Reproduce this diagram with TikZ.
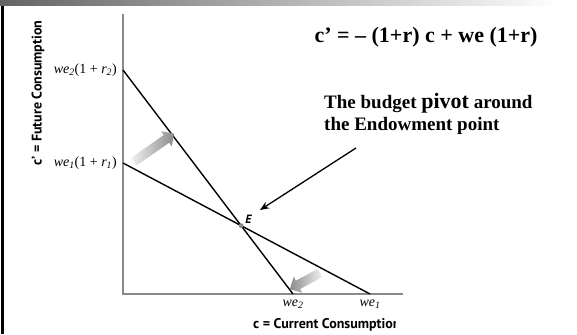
\documentclass[tikz,border=0pt]{standalone}
\usepackage{fontspec}
\setmainfont{Liberation Serif}
\setsansfont{PT Sans}
\usepackage{tikz}
\usetikzlibrary{arrows.meta,positioning,shapes.arrows,intersections}
\definecolor{axisgrey}{RGB}{138,138,138}
\definecolor{bardark}{RGB}{100,100,100}
\definecolor{shiftlight}{RGB}{240,240,240}
\definecolor{shiftdark}{RGB}{140,140,140}
\tikzset{
  base/.style={inner sep=1pt, text=black},
  axis/.style={draw=axisgrey, line width=1.3pt},
  budget/.style={draw=black, line width=1.4pt},
  ticklbl/.style={base, font=\fontsize{14}{16}\selectfont\itshape},
  axlbl/.style={base, font=\sffamily\bfseries\fontsize{14}{16}\selectfont},
  heading/.style={base, font=\bfseries\fontsize{22}{26}\selectfont},
  note/.style={base, font=\bfseries\fontsize{19}{22}\selectfont, align=left},
  pointer/.style={-{Stealth[length=3.2mm,width=2.6mm]}, line width=1.3pt, draw=black},
  shiftarrow/.style={single arrow, draw=none, inner xsep=0pt, inner ysep=4.5pt,
    single arrow head extend=4.5pt, left color=shiftlight, right color=shiftdark},
  shiftback/.style={shiftarrow, left color=shiftdark, right color=shiftlight},
}
\begin{document}
\begin{tikzpicture}[x=1pt,y=-1pt]
  \useasboundingbox (0,0) rectangle (577,334);
  % frame
  \shade[left color=bardark, right color=white] (0,0) rectangle (560,6);
  \draw[line width=2.2pt] (2.5,6) -- (2.5,334);
  % axes
  \coordinate (orig) at (123,294);
  \coordinate (ytop) at (123,14);
  \coordinate (xend) at (403,294);
  \draw[axis] (ytop) -- (orig) -- (xend);
  % budget lines
  \coordinate (a2) at (123,70);
  \coordinate (a1) at (123,163);
  \coordinate (b2) at (293,294);
  \coordinate (b1) at (370,294);
  \draw[budget, name path=steep] (a2) -- (b2);
  \draw[budget, name path=flat] (a1) -- (b1);
  \path[name intersections={of=steep and flat, by=E}];
  \fill[axisgrey] (E) circle (2.4pt);
  \node[base, font=\sffamily\bfseries\itshape\fontsize{12}{14}\selectfont, anchor=south west] (elbl) at ([xshift=3pt,yshift=1pt]E) {E};
  % axis labels
  \node[ticklbl, anchor=east] (la2) at ([xshift=-5pt]a2) {we\textsubscript{2}\textup{(1 + }r\textsubscript{2}\textup{)}};
  \node[ticklbl, anchor=east] (la1) at ([xshift=-5pt]a1) {we\textsubscript{1}\textup{(1 + }r\textsubscript{1}\textup{)}};
  \node[ticklbl, anchor=north] (lb2) at ([yshift=-5pt]b2) {we\textsubscript{2}};
  \node[ticklbl, anchor=north] (lb1) at ([yshift=-5pt]b1) {we\textsubscript{1}};
  \node[axlbl, rotate=90] (ylbl) at (38,93) {c’ = Future Consumption};
  \begin{scope}
    \clip (240,312) rectangle (395,334);
    \node[axlbl, anchor=west] (xlbl) at (252,325) {c = Current Consumption};
  \end{scope}
  % pivot arrows
  \node[shiftarrow, minimum height=49pt, rotate=35] (up) at (152,149) {};
  \node[shiftback, minimum height=34pt, rotate=208] (down) at (307,280) {};
  % texts
  \node[heading] (eq) at (426,37) {c’ = – (1+r) c + we (1+r)};
  \node[note, anchor=west] (pivot) at (323,114) {The budget {\fontsize{22}{22}\selectfont pivot} around\\the Endowment point};
  \coordinate (ptail) at (356,148);
  \coordinate (phead) at (260,210);
  \draw[pointer] (ptail) -- (phead);
\end{tikzpicture}
\end{document}
